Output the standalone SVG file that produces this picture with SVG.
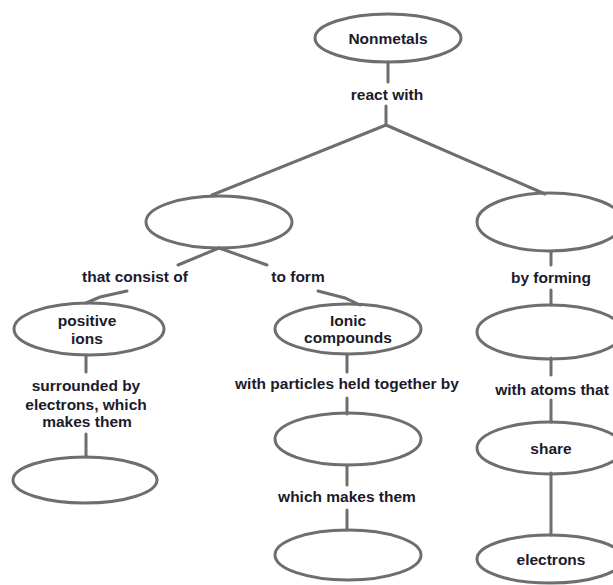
<svg xmlns="http://www.w3.org/2000/svg" width="613" height="585" viewBox="0 0 613 585">
<style>
.n{fill:none;stroke:#6e6e6e;stroke-width:3}
.c line,.c polyline{fill:none;stroke:#6e6e6e;stroke-width:3;stroke-linecap:round}
text{font-family:"Liberation Sans",Arial,sans-serif;font-weight:bold;font-size:15.5px;fill:#1b1b2b;text-anchor:middle}
</style>
<rect width="613" height="585" fill="#fff"/>
<g class="c" id="connectors">
<line x1="388" y1="62" x2="388" y2="82"/>
<line x1="386" y1="106" x2="386" y2="125"/>
<line x1="386" y1="125" x2="212" y2="195"/>
<line x1="386" y1="125" x2="545" y2="194"/>
<line x1="219" y1="248" x2="178" y2="265"/>
<line x1="219" y1="248" x2="267" y2="265"/>
<polyline points="127,291 100,297 86,303"/>
<polyline points="318,291 345,298 360,305"/>
<line x1="86" y1="355" x2="86" y2="372"/>
<line x1="86" y1="434" x2="86" y2="457"/>
<line x1="347" y1="354" x2="347" y2="372"/>
<line x1="347" y1="398" x2="347" y2="414"/>
<line x1="347" y1="465" x2="347" y2="485"/>
<line x1="347" y1="510" x2="347" y2="530"/>
<line x1="551" y1="252" x2="551" y2="265"/>
<line x1="551" y1="290" x2="551" y2="305"/>
<line x1="551" y1="358" x2="551" y2="375"/>
<line x1="551" y1="400" x2="551" y2="422"/>
<line x1="551" y1="473" x2="551" y2="535"/>
</g>
<g id="nonmetals"><ellipse class="n" cx="388" cy="38" rx="73" ry="24"/><text x="388" y="44">Nonmetals</text></g>
<g id="label-react"><text x="387" y="100">react with</text></g>
<g id="blank-left"><ellipse class="n" cx="219" cy="222" rx="73" ry="26"/></g>
<g id="blank-right"><ellipse class="n" cx="550" cy="222" rx="73" ry="29"/></g>
<g id="label-consist"><text x="135" y="282">that consist of</text></g>
<g id="label-toform"><text x="298" y="282">to form</text></g>
<g id="label-byforming"><text x="551" y="283">by forming</text></g>
<g id="positive-ions"><ellipse class="n" cx="89" cy="329" rx="75" ry="26"/><text x="87" y="326">positive</text><text x="87" y="344">ions</text></g>
<g id="ionic-compounds"><ellipse class="n" cx="348" cy="329" rx="73" ry="25"/><text x="348" y="326">Ionic</text><text x="348" y="343">compounds</text></g>
<g id="blank-r2"><ellipse class="n" cx="550" cy="332" rx="73" ry="27"/></g>
<g id="label-surrounded"><text x="86" y="391">surrounded by</text><text x="86" y="410">electrons, which</text><text x="87" y="427">makes them</text></g>
<g id="label-particles"><text x="347" y="389">with particles held together by</text></g>
<g id="label-atoms"><text x="552" y="395">with atoms that</text></g>
<g id="blank-l3"><ellipse class="n" cx="85" cy="480" rx="72" ry="23"/></g>
<g id="blank-m3"><ellipse class="n" cx="348" cy="439" rx="73" ry="26"/></g>
<g id="share"><ellipse class="n" cx="550" cy="448" rx="73" ry="26"/><text x="551" y="454">share</text></g>
<g id="label-which"><text x="347" y="502">which makes them</text></g>
<g id="blank-m4"><ellipse class="n" cx="348" cy="555" rx="73" ry="25"/></g>
<g id="electrons"><ellipse class="n" cx="550" cy="559" rx="73" ry="24"/><text x="551" y="565">electrons</text></g>
</svg>
